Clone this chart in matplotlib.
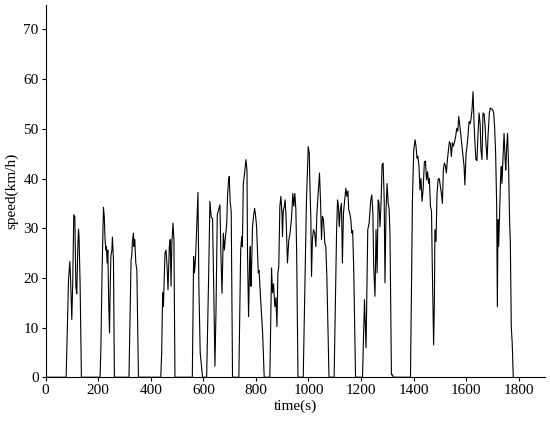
import matplotlib
matplotlib.use("Agg")
import matplotlib.pyplot as plt

# %% data (time in s, speed in km/h)
time_s = [0, 78, 87, 92, 94.5, 99.5, 103, 107, 111, 115, 118.5, 122, 125, 127, 131, 136,
          207, 210, 215, 220, 223, 226, 229, 231, 234, 236.5, 240, 243, 245.5, 248, 252, 254, 258, 261.5,
          317, 325, 327.5, 330, 334, 336, 339, 343, 347, 353,
          438, 441.5, 445, 448, 454, 458, 462, 465.5, 470.5, 474, 477, 480, 484.5, 488, 492,
          558, 563, 566, 570, 573, 579.5, 583, 588, 593.5, 597,
          612.5, 620, 625, 630, 635, 639, 644, 648, 653, 658, 663, 667, 671, 676, 680, 683, 689,
          692, 696, 698.5, 702, 706, 711,
          735, 742, 746, 748.5, 752, 757, 762, 766, 768, 772, 776, 778.5, 781, 783.5, 787, 791,
          795, 799, 802.5, 809, 812, 818, 825.5, 831.5,
          853, 859.5, 863, 867, 872, 876, 880, 883.5, 887, 891, 895, 899, 901, 904, 908, 911,
          915, 920, 925, 929, 935, 940.5, 944, 948, 952, 955, 960,
          980, 985, 992, 999, 1003, 1005, 1009, 1011.5, 1015, 1019, 1024, 1028, 1032, 1036,
          1042, 1046, 1049.5, 1053, 1057, 1062, 1066, 1070, 1078,
          1097.5, 1107, 1110.5, 1114, 1117, 1121, 1125.5, 1129, 1133, 1138, 1142, 1146, 1150,
          1153, 1157, 1161, 1165, 1168, 1172, 1179,
          1205.5, 1213, 1219, 1225.5, 1230.5, 1237, 1241, 1245, 1248, 1253, 1257, 1261, 1265,
          1268, 1272, 1276, 1280, 1284, 1288, 1291, 1295, 1299, 1303, 1306.5, 1310, 1315.5,
          1320, 1322,
          1388, 1395.5, 1400.5, 1405.5, 1409, 1413, 1416, 1420.5, 1424, 1428, 1432, 1436, 1441,
          1445, 1449, 1453, 1457, 1460, 1464, 1468, 1471, 1476, 1479, 1481, 1485, 1489, 1493,
          1496, 1498, 1505.5, 1509.5, 1513, 1517, 1521, 1524.5, 1528.5, 1532, 1536, 1540,
          1543.5, 1547.5, 1551, 1555, 1560, 1564, 1568, 1571.5, 1575.5, 1580, 1584, 1588, 1592,
          1595, 1599.5, 1603, 1607, 1611, 1615, 1618, 1622, 1626, 1630, 1634, 1637, 1641, 1645,
          1649, 1653, 1656, 1660, 1664, 1668, 1672, 1675, 1679.5, 1683, 1688, 1692, 1696, 1701,
          1704.5, 1708, 1712, 1716, 1718.5, 1721, 1723.5, 1727, 1731, 1733.5, 1736, 1740, 1744,
          1748, 1750.5, 1754, 1757.5, 1761.5, 1765, 1768, 1771.5, 1775, 1779]

speed_kmh = [0, 0, 19.6, 23.3, 20.3, 11.6, 19, 32.7, 32.3, 18.3, 16.8, 25.6, 29.8, 28.3, 19, 0,
             0, 5.5, 22.3, 34.2, 32.3, 27.7, 25.6, 26.3, 23, 25.6, 14.9, 8.9, 17.6, 24.3, 25.6, 28.2, 23.6, 0,
             0, 23.6, 24.3, 27.3, 29, 26.3, 27.7, 23, 21.6, 0,
             0, 4.9, 17, 14.2, 25, 25.6, 22.3, 17.6, 26.3, 27.7, 18.3, 26.9, 31, 27.7, 0,
             0, 24.3, 21, 23.6, 27.7, 37.2, 18.3, 4.9, 2, 0,
             0, 20, 35.4, 32.2, 31.9, 19.6, 2.2, 13, 32.7, 33.7, 34.7, 24.3, 16.9, 29, 25.6, 27.7, 31,
             36.4, 39.7, 40.4, 35.4, 33.3, 0,
             0, 25.6, 28.3, 26.3, 39, 41.1, 43.8, 41.7, 25, 12.2, 23, 26.3, 18.3, 22, 30.3, 32.4,
             34, 32.4, 30.3, 21, 21.5, 15.6, 8.9, 0,
             0, 22, 17, 18.8, 14.2, 16, 10.2, 21, 22.3, 34.4, 36.4, 33, 28.3, 33.5, 34.4, 35.7,
             31.7, 23, 27.6, 28.7, 31.7, 37, 34.4, 37, 33.7, 25, 0,
             0, 15, 35, 46.4, 45.1, 39.7, 31.7, 20.3, 27.7, 29.7, 29, 26.3, 33, 36.4,
             41.1, 35, 27.7, 32.4, 31.8, 27, 26.3, 20, 0,
             0, 29.7, 35.7, 34.4, 30.3, 33.6, 35, 23, 33, 35.7, 38, 36.4, 37.5,
             33.7, 33, 31.7, 29, 29.5, 22, 0,
             0, 15.6, 5.9, 29.7, 31, 35.7, 36.7, 33, 22.3, 16.3, 29.7, 21, 35.7,
             35.2, 30.3, 35, 42.8, 43.1, 35.7, 19, 33.7, 39, 35, 34, 29, 0.5,
             0.5, 0,
             0, 35.7, 45.8, 47.8, 46.5, 44.1, 44.5, 42.4, 37.7, 40, 35.4, 37.7, 43.4,
             43.5, 39.7, 41.4, 39, 40, 34.4, 33.5, 22.3, 6.5, 15, 29.7, 27.3, 37, 39.7,
             40, 39.8, 37, 35, 41.7, 43.1, 42.5, 41.1, 43.8, 45.4, 47.4, 47,
             44.4, 47.2, 46.5, 47.2, 48.5, 50.1, 49.5, 52.5, 50.8, 48.5, 46.4, 44.4, 42.4,
             38.7, 45.1, 46.4, 48.8, 51.5, 51, 51.8, 53.8, 57.5, 51, 46.4, 43.8, 43.6, 49.1,
             53.2, 51, 45.8, 43.8, 53.2, 53, 50.5, 47.1, 43.8, 48.5, 53.2, 54.2, 54, 53.8,
             53.2, 50.5, 45, 34.4, 14.2, 31.7, 26.3, 33, 40.4, 42.4, 39, 43.8, 49.1,
             44, 41.7, 46.4, 49.1, 41.7, 31.7, 27, 10.2, 6.9, 0]

x_ticks = list(range(0, 1801, 200))
y_ticks = list(range(0, 71, 10))

plt.rcParams['font.family'] = ['Liberation Serif', 'DejaVu Serif']
plt.rcParams['font.size'] = 11

fig = plt.figure(figsize=(5.5, 4.21), dpi=100)
ax = fig.add_axes([0.083, 0.104, 0.908, 0.885])

# %% speed trace
ax.plot(time_s, speed_kmh, color='black', linewidth=0.8)

ax.set_xlim(0, 1900)
ax.set_ylim(0, 75)
ax.set_xticks(x_ticks)
ax.set_yticks(y_ticks)
ax.set_xlabel('time(s)', labelpad=2)
ax.set_ylabel('speed(km/h)', labelpad=4)

# only left and bottom axes, like the reference
ax.spines['top'].set_visible(False)
ax.spines['right'].set_visible(False)
for s in ['left', 'bottom']:
    ax.spines[s].set_linewidth(0.8)
ax.tick_params(direction='out', length=3, width=0.8, pad=2)

fig.savefig('out.png', dpi=100)
